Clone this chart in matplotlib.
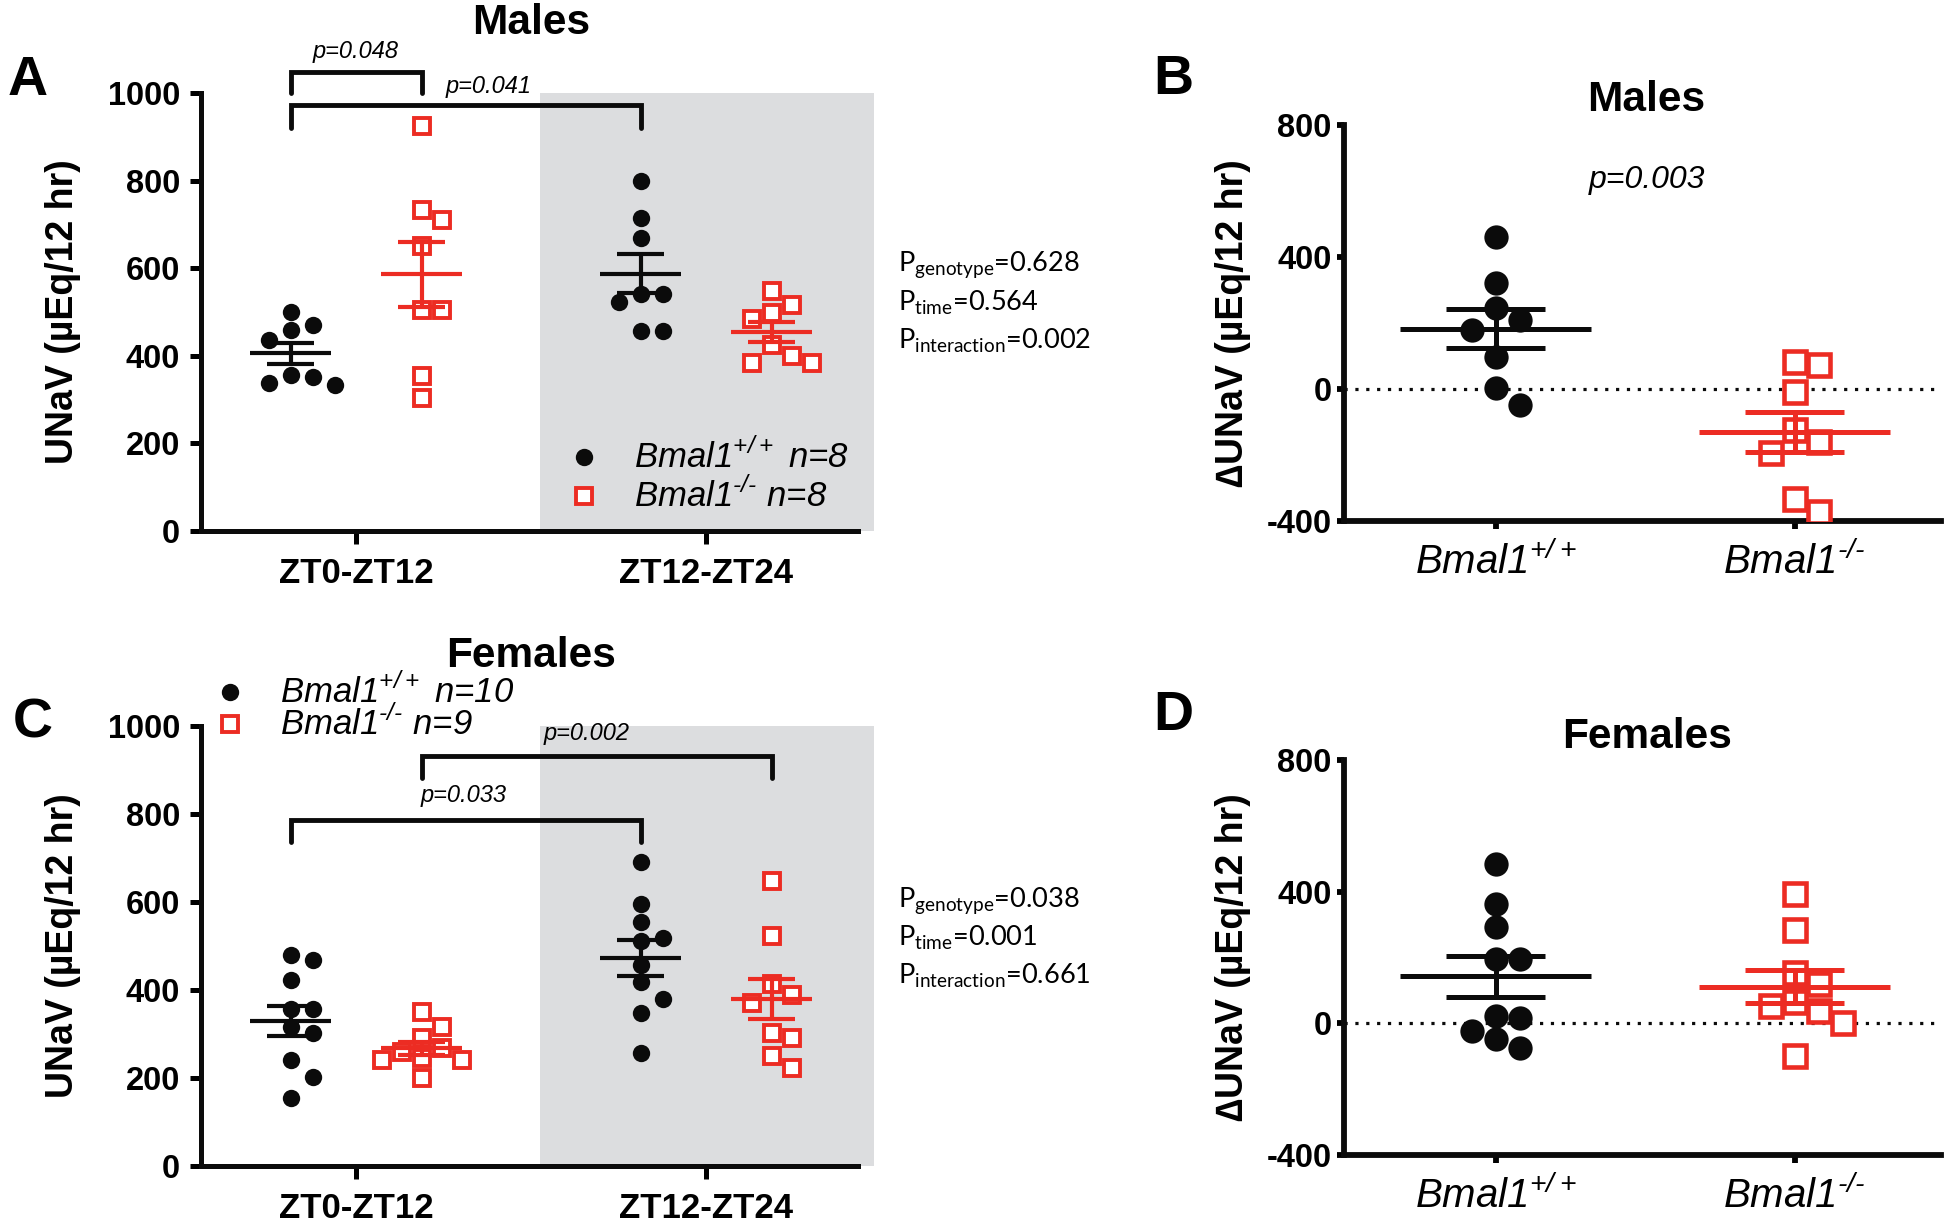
import numpy as np
import matplotlib
matplotlib.use("Agg")
import matplotlib.pyplot as plt

plt.rcParams["font.family"] = ["Liberation Sans", "DejaVu Sans"]
plt.rcParams["axes.unicode_minus"] = False

# ── values (UNaV, µEq/12 hr) ─────────────────────────────────────────────────
phases = ["ZT0-ZT12", "ZT12-ZT24"]
# U+2010 hyphen so mathtext does not swap in a wide minus sign
genotype_ticks = [r"Bmal1$^{\mathregular{+/+}}$", "Bmal1$^{\\mathregular{\u2010/\u2010}}$"]

male_wt_day = [501, 471, 459, 436, 356, 351, 339, 334]
male_wt_night = [799, 715, 670, 542, 542, 523, 456, 456]
male_ko_day = [924, 733, 711, 650, 505, 505, 354, 304]
male_ko_night = [547, 516, 497, 484, 425, 400, 383, 383]

female_wt_day = [480, 467, 422, 355, 355, 315, 301, 239, 201, 153]
female_wt_night = [690, 595, 553, 518, 511, 457, 417, 379, 347, 256]
female_ko_day = [349, 315, 290, 267, 259, 244, 241, 239, 199]
female_ko_night = [648, 522, 412, 387, 370, 301, 290, 250, 222]

# night minus day, per animal
male_delta_wt = [461, 320, 244, 208, 179, 98, 2, -49]
male_delta_ko = [81, 73, -9, -125, -160, -195, -334, -374]
female_delta_wt = [485, 364, 293, 195, 195, 23, 16, -23, -47, -76]
female_delta_ko = [393, 283, 153, 121, 65, 53, 37, 2, -100]

male_anova = ["0.628", "0.564", "0.002"]
female_anova = ["0.038", "0.001", "0.661"]

BLACK = "#0b0b0b"
RED = "#ec2c23"
SHADE = "#dcdddf"
W, H = 1950, 1225


def swarm_x(ax, xc, values, box_w, box_h):
    """Column-style scatter (like GraphPad): nudge points sideways so the
    markers do not overlap. box_w / box_h are in output pixels."""
    vals = np.asarray(values, float)
    tr = ax.transData
    y_px = tr.transform(np.column_stack([np.full(vals.size, xc), vals]))[:, 1]
    cands = [0.0]
    for k in range(1, 12):
        cands += [k * box_w / 2, -k * box_w / 2]
    placed = []
    off = np.zeros(vals.size)
    for i in np.argsort(-vals, kind="stable"):
        for c in cands:
            if all(abs(c - px) >= box_w - 1e-6 or abs(y_px[i] - py) >= box_h
                   for px, py in placed):
                break
        placed.append((c, y_px[i]))
        off[i] = c
    x0 = tr.transform((xc, 0))[0]
    return tr.inverted().transform(np.column_stack([x0 + off, y_px]))[:, 0]


def draw_group(ax, xc, values, kind, big=False):
    """Scatter of one group plus mean ± SEM bars."""
    vals = np.asarray(values, float)
    if kind == "wt":
        ms = 17.5 if big else 12.5
        box = (24, 23) if big else (22, 17)
        xs = swarm_x(ax, xc, vals, *box)
        ax.plot(xs, vals, "o", color=BLACK, ms=ms, mec="none", zorder=3)
        col = BLACK
    else:
        ms, mew = (16, 3.3) if big else (12, 2.8)
        box = (24, 26) if big else (20, 19)
        xs = swarm_x(ax, xc, vals, *box)
        ax.plot(xs, vals, "s", mfc="white", mec=RED, ms=ms, mew=mew, zorder=3)
        col = RED
    mean = vals.mean()
    sem = vals.std(ddof=1) / np.sqrt(vals.size)
    half_m, half_c = (0.32, 0.165) if big else (0.115, 0.067)
    lw = 3.6 if big else 3.0
    ax.hlines(mean, xc - half_m, xc + half_m, color=col, lw=lw, zorder=4)
    ax.hlines([mean - sem, mean + sem], xc - half_c, xc + half_c,
              color=col, lw=lw, zorder=4)
    ax.vlines(xc, mean - sem, mean + sem, color=col, lw=lw, zorder=4)


def style_axes(ax, spine_w, tick_len, pad_y, pad_x):
    for s in ("top", "right"):
        ax.spines[s].set_visible(False)
    for s in ("left", "bottom"):
        ax.spines[s].set_linewidth(spine_w)
        ax.spines[s].set_color(BLACK)
    ax.tick_params(axis="y", length=tick_len, width=spine_w, pad=pad_y,
                   labelsize=23.5)
    ax.tick_params(axis="x", length=tick_len + 1, width=spine_w, pad=pad_x)
    for lab in ax.get_yticklabels():
        lab.set_fontweight("bold")


def bracket(ax, x1, x2, y_top, y_bot):
    ax.plot([x1, x1, x2, x2], [y_bot, y_top, y_top, y_bot], color=BLACK,
            lw=3.5, clip_on=False, solid_capstyle="round",
            solid_joinstyle="miter", zorder=5)


def box_axes(top, bottom, left, right):
    return fig.add_axes([left / W, 1 - bottom / H, (right - left) / W,
                         (bottom - top) / H])


fig = plt.figure(figsize=(W / 100, H / 100), dpi=100)

# ── A / C: raw UNaV per 12 h ────────────────────────────────────────────────
OFF = 0.187
panels_ac = [
    (box_axes(93, 531, 201, 858), male_wt_day, male_wt_night, male_ko_day,
     male_ko_night),
    (box_axes(726, 1165.5, 201, 858), female_wt_day, female_wt_night,
     female_ko_day, female_ko_night),
]
for ax, wt_d, wt_n, ko_d, ko_n in panels_ac:
    ax.set_xlim(-0.443, 1.434)
    ax.set_ylim(0, 1000)
    ax.set_yticks(range(0, 1001, 200))
    ax.set_xticks([0, 1])
    ax.set_xticklabels(phases, fontweight="bold", fontsize=25)
    style_axes(ax, 3.6, 8, 7, 10)
    ax.axvspan(0.526, 1.48, color=SHADE, lw=0, zorder=0, clip_on=False)
    ax.set_ylabel("UNaV (µEq/12 hr)", fontweight="bold", fontsize=27)
    ax.yaxis.set_label_coords(-0.183, 0.5)
    draw_group(ax, 0 - OFF, wt_d, "wt")
    draw_group(ax, 1 - OFF, wt_n, "wt")
    draw_group(ax, 0 + OFF, ko_d, "ko")
    draw_group(ax, 1 + OFF, ko_n, "ko")

axA, axC = panels_ac[0][0], panels_ac[1][0]

# significance brackets
bracket(axA, -OFF, OFF, 1049, 1000)
axA.text(0.0, 1094, "p=0.048", style="italic", fontsize=17, ha="center",
         va="center")
bracket(axA, -OFF, 1 - OFF, 973, 920)
axA.text(0.38, 1014, "p=0.041", style="italic", fontsize=17, ha="center",
         va="center")

bracket(axC, -OFF, 1 - OFF, 785, 736)
axC.text(0.306, 841, "p=0.033", style="italic", fontsize=17, ha="center",
         va="center")
bracket(axC, OFF, 1 + OFF, 932, 882)
axC.text(0.66, 984, "p=0.002", style="italic", fontsize=17, ha="center",
         va="center")

# legends
legend_rows = [
    (axA, 0.651, 0.794, [169, 80], ["n=8", "n=8"]),
    (axC, -0.361, -0.218, [1077, 1005], ["n=10", "n=9"]),
]
for ax, xm, xt, ys, ns in legend_rows:
    ax.plot(xm, ys[0], "o", color=BLACK, ms=12.5, mec="none", clip_on=False)
    ax.plot(xm, ys[1], "s", mfc="white", mec=RED, ms=12, mew=2.8,
            clip_on=False)
    for y, g, n in zip(ys, genotype_ticks, ns):
        ax.text(xt, y, f"{g} {n}", style="italic", fontsize=25, va="center",
                ha="left", clip_on=False)

# two-way ANOVA summaries
for top, vals in [(265, male_anova), (900, female_anova)]:
    names = ["genotype", "time", "interaction"]
    for k, (nm, v) in enumerate(zip(names, vals)):
        fig.text(898 / W, 1 - (top + 38 * k) / H,
                 r"P$_{\mathregular{" + nm + "}}$=" + v,
                 fontfamily=["Lato", "DejaVu Sans"], fontsize=19.5,
                 va="center")

# ── B / D: night minus day ──────────────────────────────────────────────────
panels_bd = [
    (box_axes(125, 521, 1344, 1941), male_delta_wt, male_delta_ko),
    (box_axes(760, 1155, 1344, 1941), female_delta_wt, female_delta_ko),
]
for ax, d_wt, d_ko in panels_bd:
    ax.set_xlim(-0.508, 1.49)
    ax.set_ylim(-400, 800)
    ax.set_yticks([-400, 0, 400, 800])
    ax.set_xticks([0, 1])
    ax.set_xticklabels(genotype_ticks, style="italic", fontsize=29)
    style_axes(ax, 4.2, 5, 4, 9)
    ax.axhline(0, color=BLACK, lw=2.3, ls=(0, (1, 2.4)), zorder=1)
    ax.set_ylabel("∆UNaV (µEq/12 hr)", fontweight="bold", fontsize=27)
    ax.yaxis.set_label_coords(-0.155, 0.5)
    draw_group(ax, 0, d_wt, "wt", big=True)
    draw_group(ax, 1, d_ko, "ko", big=True)

fig.text(1647 / W, 1 - 180 / H, "p=0.003", style="italic", fontsize=23,
         ha="center", va="center")

# titles and panel letters
for x, y, s in [(531, 23, "Males"), (531, 656, "Females"),
                (1646, 100, "Males"), (1647, 737, "Females")]:
    fig.text(x / W, 1 - y / H, s, fontweight="bold", fontsize=30.5,
             ha="center", va="center")
for x, y, s in [(28, 81, "A"), (1173, 80, "B"), (33, 724, "C"),
                (1173, 716, "D")]:
    fig.text(x / W, 1 - y / H, s, fontweight="bold", fontsize=40,
             ha="center", va="center")

fig.savefig("out.png", dpi=100)
